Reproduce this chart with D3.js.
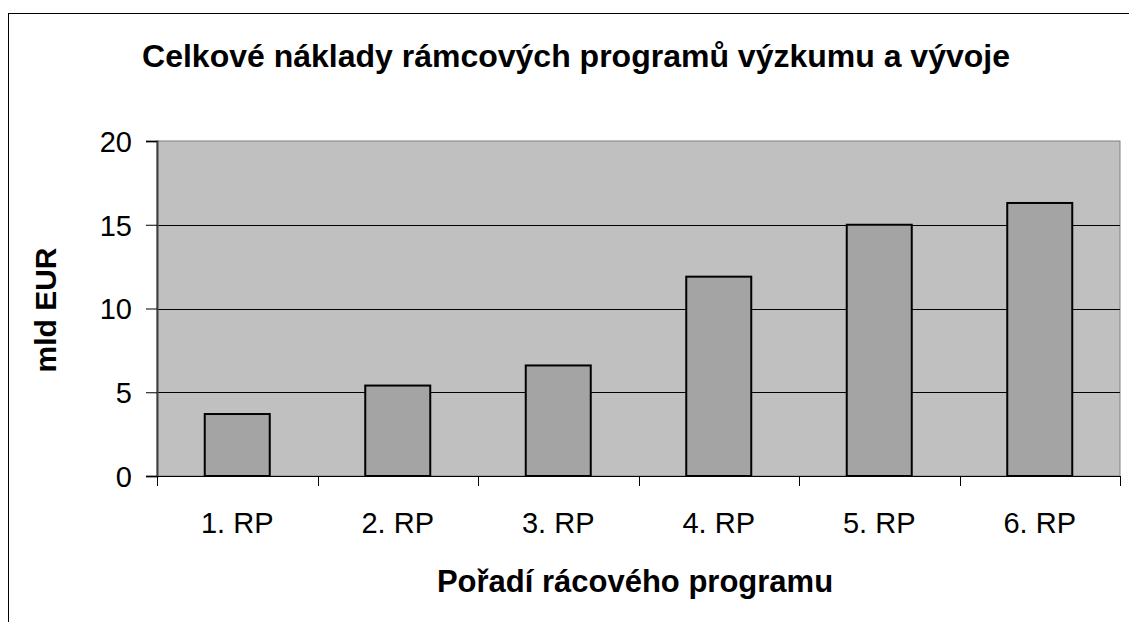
<!DOCTYPE html>
<html><head><meta charset="utf-8">
<script src="https://cdn.jsdelivr.net/npm/d3@7"></script>
<style>body{margin:0;background:#fff}svg{display:block;font-family:"Liberation Sans",Arial,sans-serif}</style>
</head><body>
<script>
const categories = ["1. RP","2. RP","3. RP","4. RP","5. RP","6. RP"];
const values = [3.7, 5.4, 6.6, 11.9, 15.0, 16.3];
const yTicks = [0,5,10,15,20];
const title = "Celkové náklady rámcových programů výzkumu a vývoje";
const xTitle = "Pořadí rácového programu";
const yTitle = "mld EUR";

const W=1129,H=622;
const svg=d3.select("body").append("svg").attr("width",W).attr("height",H);
svg.append("rect").attr("x",8.5).attr("y",13.5).attr("width",W+20).attr("height",H+20).attr("fill","none").attr("stroke","#000").attr("stroke-width",1);

const L=157,R=1120,T=141,B=476;
const x=d3.scaleBand().domain(categories).range([L,R]).paddingInner(0.595).paddingOuter(0.2975);
const y=d3.scaleLinear().domain([0,20]).range([B,T]);

svg.append("rect").attr("x",L).attr("y",T).attr("width",R-L).attr("height",B-T).attr("fill","#c0c0c0").attr("stroke","#808080").attr("stroke-width",1);

svg.append("g").selectAll("line").data(yTicks.filter(d=>d>0&&d<20)).join("line")
 .attr("x1",L).attr("x2",R).attr("y1",d=>Math.round(y(d))+0.5).attr("y2",d=>Math.round(y(d))+0.5).attr("stroke","#000");

svg.append("g").selectAll("rect").data(values).join("rect")
 .attr("x",(d,i)=>x(categories[i])).attr("width",x.bandwidth())
 .attr("y",d=>y(d)).attr("height",d=>B-y(d))
 .attr("fill","#a4a4a4").attr("stroke","#000").attr("stroke-width",2);

// y axis
const ya=svg.append("g").attr("transform",`translate(${L},0)`).call(d3.axisLeft(y).tickValues(yTicks).tickSize(11).tickPadding(14));
ya.select(".domain").attr("stroke","#404040").attr("stroke-width",2);
ya.selectAll("text").attr("font-size",29).attr("fill","#000").attr("dy","0.36em");
ya.selectAll("line").attr("stroke","#000");

// x axis
const xb=d3.scaleLinear().domain([0,6]).range([L,R]);
svg.append("line").attr("x1",L).attr("x2",R).attr("y1",B+0.5).attr("y2",B+0.5).attr("stroke","#000");
svg.append("g").selectAll("line").data(d3.range(7)).join("line")
 .attr("x1",d=>Math.round(xb(d))+0.5).attr("x2",d=>Math.round(xb(d))+0.5).attr("y1",B).attr("y2",B+10).attr("stroke","#000");
svg.append("g").selectAll("text").data(categories).join("text")
 .attr("x",d=>x(d)+x.bandwidth()/2).attr("y",533).attr("text-anchor","middle").attr("font-size",29).text(d=>d);

svg.append("text").attr("x",576).attr("y",67).attr("text-anchor","middle").attr("font-size",32).attr("font-weight","bold").text(title);
svg.append("text").attr("x",635).attr("y",592).attr("text-anchor","middle").attr("font-size",31).attr("font-weight","bold").text(xTitle);
svg.append("text").attr("transform","translate(56,310) rotate(-90)").attr("text-anchor","middle").attr("font-size",30).attr("font-weight","bold").text(yTitle);
</script>
</body></html>
